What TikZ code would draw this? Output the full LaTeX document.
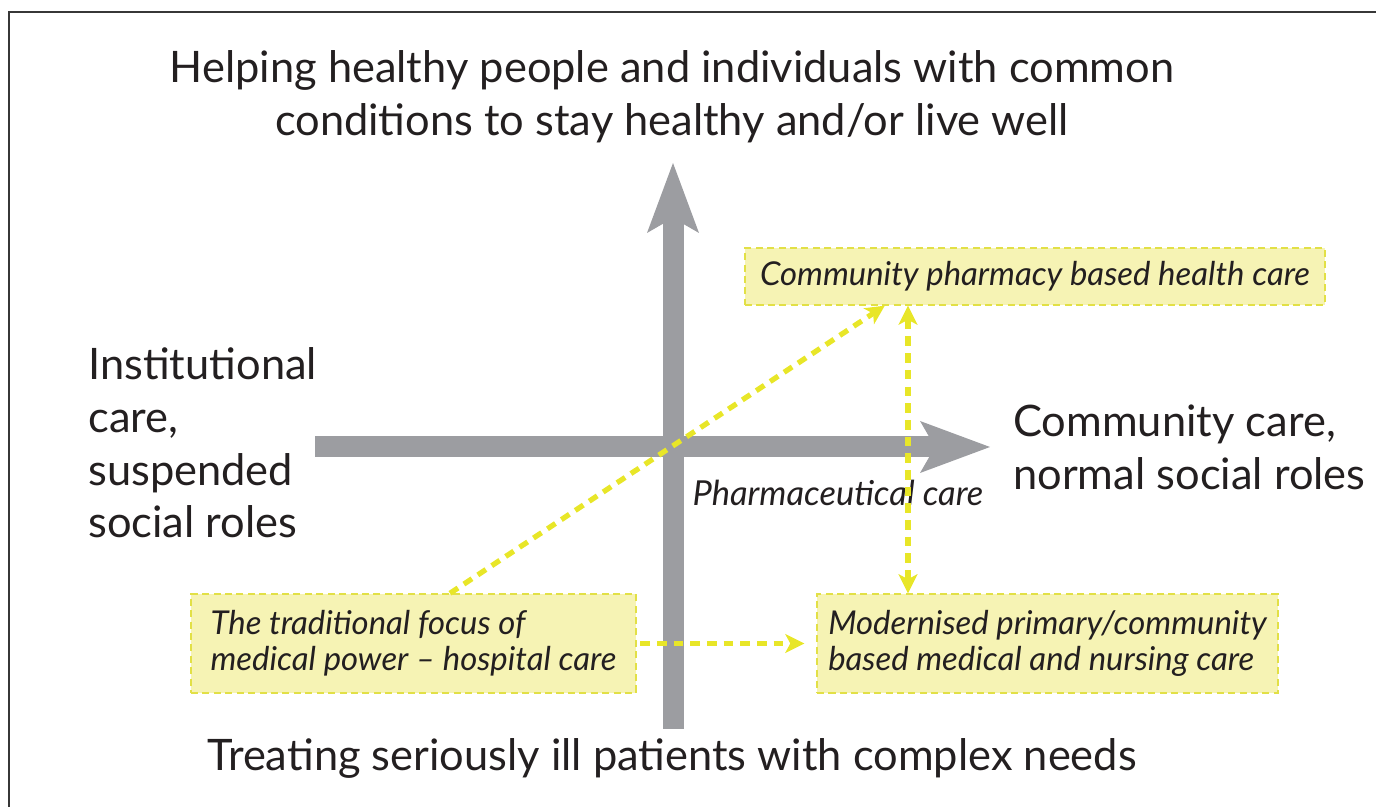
\documentclass[tikz,border=0pt]{standalone}
\usepackage{fontspec}
\setmainfont{Lato}
\usepackage{tikz}
\usetikzlibrary{positioning,arrows.meta}

\definecolor{axisgray}{RGB}{156,157,161}
\definecolor{boxfill}{RGB}{246,243,180}
\definecolor{boxline}{RGB}{226,224,70}
\definecolor{linkyellow}{RGB}{232,230,40}
\definecolor{inkblack}{RGB}{35,31,32}
\definecolor{framegray}{RGB}{55,55,55}

\begin{document}
\begin{tikzpicture}[
    x=0.02cm, y=0.02cm,                              % one unit = one pixel of the layout
    axis/.style={draw=axisgray, line width=0.42cm,
      -{Stealth[length=1.4cm, width=1.04cm, inset=0.3cm, line width=0pt]}},   % Style for the two grey axes
    box/.style={rectangle, fill=boxfill, draw=boxline, line width=0.8pt,
      dash pattern=on 4pt off 2.5pt, align=left, text=inkblack,
      font=\fontsize{18.7}{20.6}\selectfont\itshape},  % Style for the yellow boxes
    link/.style={draw=linkyellow, line width=3pt, dash pattern=on 5.5pt off 4pt,
      >={Stealth[length=11pt, width=11pt, inset=3pt, line width=0pt]}, ->},   % Style for the dashed yellow arrows
    lbl/.style={inner sep=0pt, align=left, text=inkblack,
      font=\fontsize{24.7}{30}\selectfont}             % Style for the axis labels
    ]

    \useasboundingbox (0,0) rectangle (1376,807);

    % Frame (left and top edge only)
    \draw[framegray, line width=1.2pt] (9,0) -- (9,795) -- (1376,795);

    % The two axes
    \coordinate (vbot) at (673,78);
    \coordinate (vtip) at (673,644);
    \coordinate (hbot) at (315,360);
    \coordinate (htip) at (990,360);
    \draw[axis] (vbot) -- (vtip);
    \draw[axis] (hbot) -- (htip);

    % Axis labels
    \node[lbl, align=center] (helping) at (672,710)
      {Helping healthy people and individuals with common\\conditions to stay healthy and/or live well};
    \node[lbl, anchor=west] (inst) at (88,364) {Institutional\\care,\\suspended\\social roles};
    \node[lbl, anchor=west, right=0.46cm of htip] (comm) {Community care,\\normal social roles};
    \node[lbl] (treat) at (672,49) {Treating seriously ill patients with complex needs};
    \node[inner sep=0pt, text=inkblack, font=\fontsize{19.6}{22}\selectfont\itshape] (pcare) at (838,314)
      {Pharmaceutical care};

    % Yellow boxes
    \node[box, minimum width=11.6cm, minimum height=1.14cm] (pharm) at (1035,530.5)
      {Community pharmacy based health care};
    \node[box, minimum width=8.9cm, minimum height=1.98cm] (trad) at (413.5,163.5)
      {The traditional focus of\\medical power -- hospital care};
    \node[box, minimum width=9.22cm, minimum height=1.98cm] (modern) at (1047.5,163.5)
      {Modernised primary/community\\based medical and nursing care};

    % Dashed links between the boxes
    \coordinate (vx) at (908,0);
    \draw[link] (trad.54) -- (pharm.191);
    \draw[link, <->] (pharm.south -| vx) -- (modern.north -| vx);
    \draw[link, shorten <=2pt, shorten >=0.24cm] (trad.east) -- (modern.west);

\end{tikzpicture}
\end{document}
